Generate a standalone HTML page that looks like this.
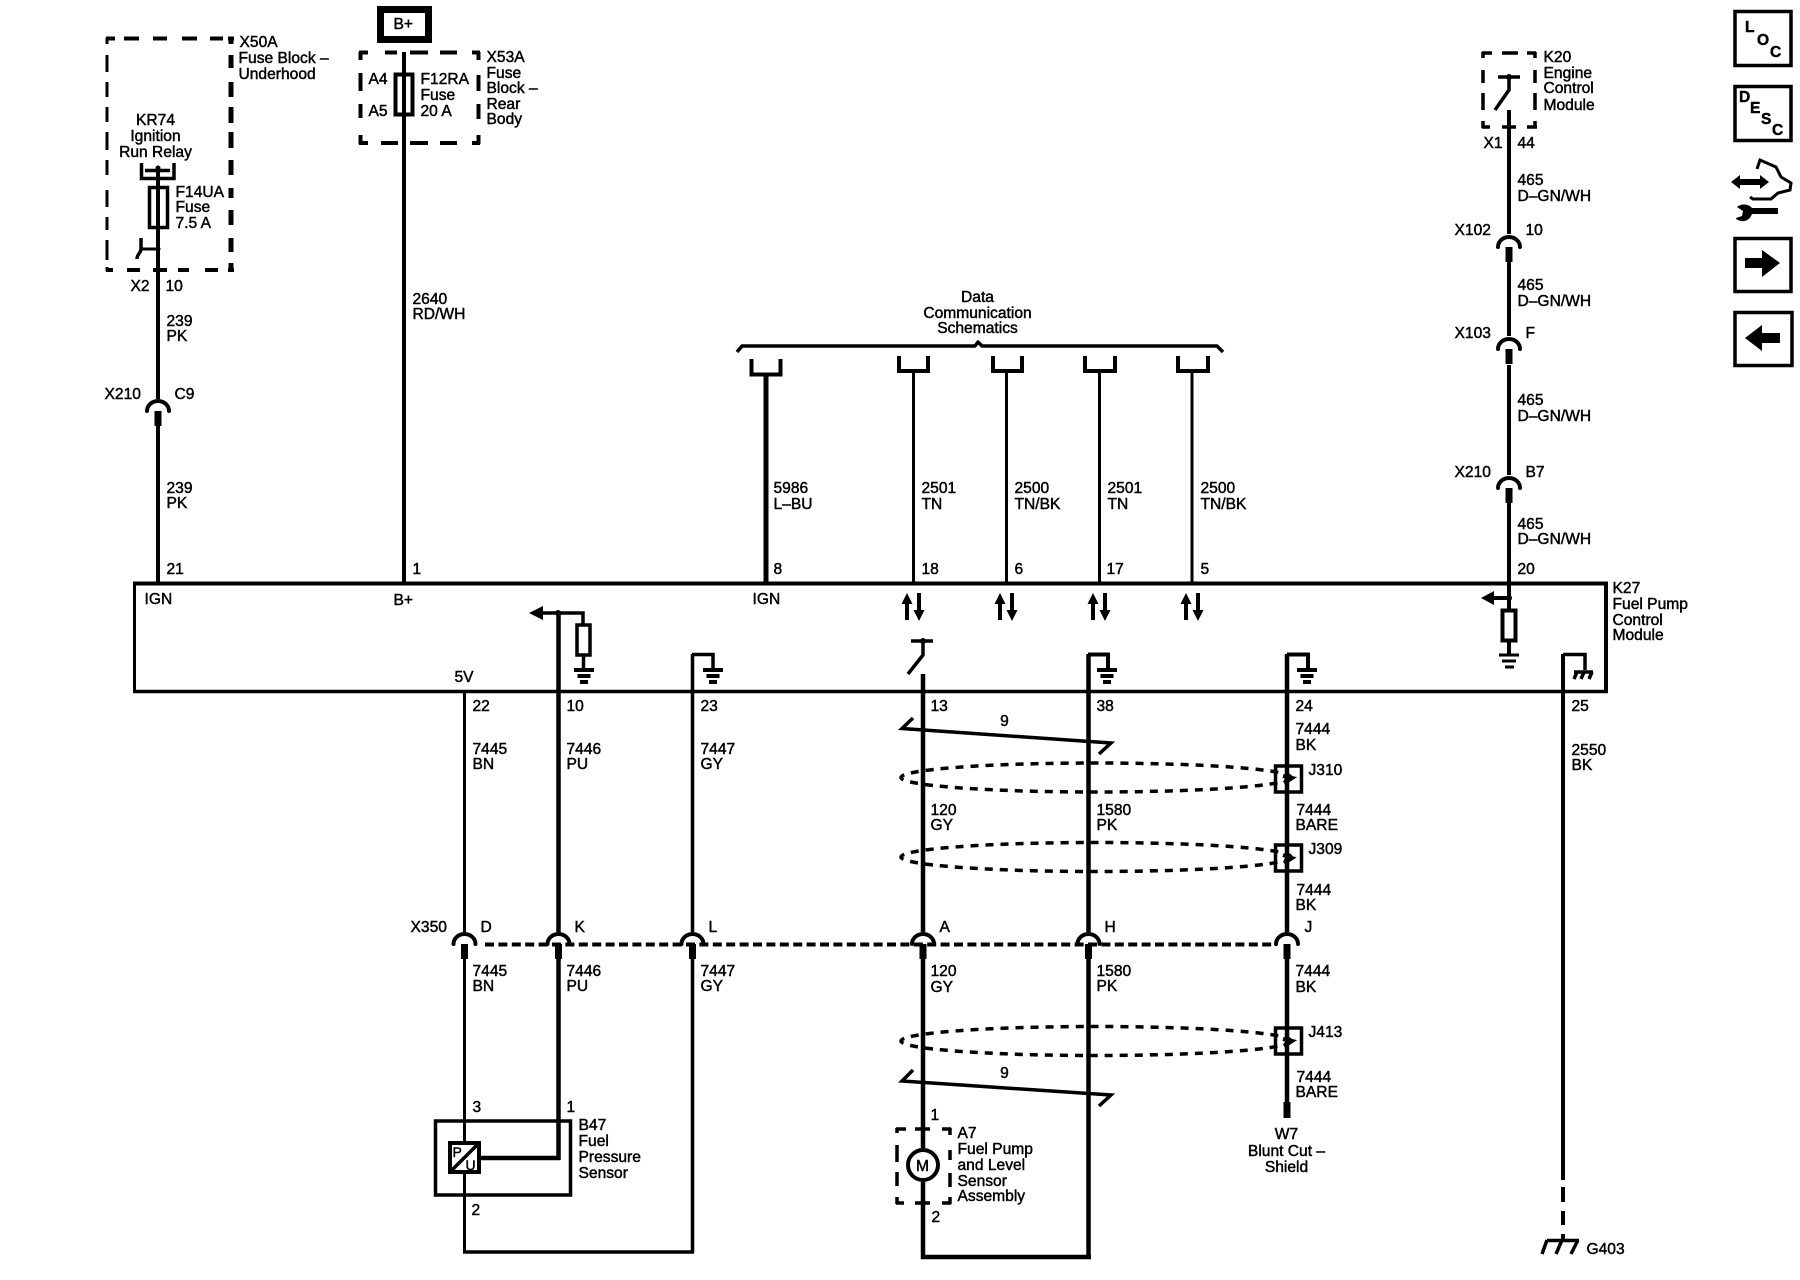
<!DOCTYPE html>
<html><head><meta charset="utf-8"><style>
html,body{margin:0;padding:0;background:#fff}
svg{display:block}
text{font-family:"Liberation Sans",Arial,sans-serif;font-size:15.6px;fill:#000;stroke:#000;stroke-width:.45px}
.m{text-anchor:middle}
.w{fill:none;stroke:#000;stroke-linecap:butt}
</style></head><body>
<svg width="1800" height="1280" viewBox="0 0 1800 1280" xmlns="http://www.w3.org/2000/svg">
<defs>
<g id="c"><path d="M-11 0A11 10 0 0 1 11 0" fill="none" stroke="#000" stroke-width="4" stroke-linecap="round"/><rect x="-3.5" y="0" width="7" height="15"/></g>
<g id="g"><rect x="-10" y="0" width="20" height="4"/><rect x="-6.5" y="6" width="13" height="4"/><rect x="-4" y="12" width="8" height="4"/></g>
<g id="b"><path d="M-7 27V10" stroke="#000" stroke-width="4"/><path d="M-7 0L-12.5 11H-1.5Z"/><path d="M5 0V18" stroke="#000" stroke-width="4"/><path d="M5 28L-.5 17H10.5Z"/></g>
</defs>
<rect width="1800" height="1280" fill="#fff"/>

<!-- dashed boxes -->
<path class="w" stroke-width="4" d="M106 38.5H115M124 38.5H139M153 38.5H167M182 38.5H197M210 38.5H223M228 38.5H234M106 270H113M127 270H140M153 270H167M178 270H189M205 270H218M228 270H234"/>
<path class="w" stroke-width="3" d="M107 38V44M107 55V72M107 82V97M107 107V122M107 132V150M107 160V175M107 190V207M107 217V230M107 240V260M107 267V271"/>
<path class="w" stroke-width="5" d="M231 38V44M231 55V68M231 82V97M231 107V123M231 132V148M231 160V175M231 188V198M231 210V225M231 238V252M231 263V272"/>
<path class="w" stroke-width="4" d="M359 52.5H368M385 52.5H397M410 52.5H428M440 52.5H457M472 52.5H480M359 143H368M381 143H398M410 143H428M440 143H457M472 143H480M360.5 52V60M360.5 73V91M360.5 104V118M360.5 135V144M478.5 52V60M478.5 75V91M478.5 104V119M478.5 135V144"/>
<path class="w" stroke-width="3.5" d="M1482 53H1492M1502 53H1518M1527 53H1536M1482 127H1490M1502 127H1516M1527 127H1537M1483 52V58M1483 70V83M1483 93V110M1483 121V128M1535 52V58M1535 70V83M1535 93V110M1535 121V128"/>
<path class="w" stroke-width="3.5" d="M896 1129H906M915 1129H930M942 1129H951M896 1203H904M915 1203H930M942 1203H951M897 1128V1133M897 1145V1162M897 1172V1186M897 1197V1204M950 1128V1135M950 1150V1160M950 1173V1187M950 1197V1204"/>

<!-- B+ box -->
<rect x="380.5" y="9.5" width="48" height="30" fill="none" stroke="#000" stroke-width="7"/>

<!-- top wires -->
<path class="w" stroke-width="4" d="M158 168V399M158 426V584M404 52V584"/>
<path class="w" stroke-width="5" d="M766 376V584"/>
<path class="w" stroke-width="3" d="M913.5 372V584M1006.5 372V584M1099.5 372V584M1192 372V584"/>
<path class="w" stroke-width="4" d="M1509 110V234M1509 262V336M1509 365V475M1509 503V610M1509 641V654"/>

<!-- data cups + brace -->
<path class="w" stroke-width="4" d="M751.5 359V374.5H780.5V359"/>
<path class="w" stroke-width="4" d="M899 356V371H928V356M993 356V371H1022V356M1085 356V371H1115V356M1178 356V371H1208V356"/>
<path class="w" stroke-width="3.5" stroke-linejoin="round" d="M737 352L742 346H975L978 342L982 346H1217L1223 352"/>

<!-- relay + fuses -->
<path class="w" stroke-width="3.5" d="M141.5 163V178.5H174V163M145 170.5H170"/>
<circle cx="158" cy="168" r="2.5"/>
<rect x="149.5" y="187.5" width="18" height="40" fill="none" stroke="#000" stroke-width="3.5"/>
<path class="w" stroke-width="3" d="M158 249H141"/>
<path class="w" stroke-width="3.5" d="M141 238V249C141 253 137 254 137 259"/>
<circle cx="158" cy="249" r="2.5"/>
<rect x="395.5" y="74.5" width="17" height="40" fill="none" stroke="#000" stroke-width="4"/>

<!-- module box -->
<path class="w" stroke-width="3" d="M134.5 584V692"/>
<path class="w" stroke-width="4" d="M133 583.5H1608M1606 582V693"/>
<path class="w" stroke-width="3.5" d="M133 691.5H1608"/>

<!-- bidir arrows -->
<use href="#b" x="914" y="593"/><use href="#b" x="1007" y="593"/><use href="#b" x="1100" y="593"/><use href="#b" x="1193" y="593"/>

<!-- internal: pin 10 -->
<path class="w" stroke-width="3.5" d="M543 613H583V625"/>
<path d="M529 613L543 606V620Z"/>
<circle cx="558" cy="613" r="3"/>
<rect x="577" y="625" width="13" height="30" fill="none" stroke="#000" stroke-width="3.5"/>
<path class="w" stroke-width="3.5" d="M583.5 655V668"/>
<use href="#g" x="584" y="668"/>
<!-- pin 23 -->
<path class="w" stroke-width="3.5" d="M692 654.5H713V668"/>
<use href="#g" x="713" y="668"/>
<!-- pin 13 switch -->
<path class="w" stroke-width="3.5" d="M911 641H933M923 641V655L908 674"/>
<circle cx="923" cy="641" r="3"/>
<!-- pin 38 / 24 -->
<path class="w" stroke-width="4" d="M1088 654.5H1108V668M1287 654.5H1308V668"/>
<use href="#g" x="1107" y="668"/><use href="#g" x="1307" y="668"/>
<!-- pin 20 -->
<path class="w" stroke-width="4" d="M1494 598H1510"/>
<path d="M1481 598L1494 591V605Z"/>
<circle cx="1509" cy="598" r="3"/>
<rect x="1502.5" y="610.5" width="13" height="30" fill="none" stroke="#000" stroke-width="4"/>
<path class="w" stroke-width="3" d="M1499 655H1519M1502 661H1516M1505 667H1514"/>
<!-- pin 25 -->
<path class="w" stroke-width="3.5" d="M1563 654.5H1585V670"/>
<path class="w" stroke-width="3.5" d="M1574 672H1593M1577 672L1574 679M1584 672L1581 679M1592 672L1589 679"/>

<!-- K20 switch -->
<path class="w" stroke-width="3.5" d="M1498 77H1520M1509 77V90L1495 110"/>
<circle cx="1509" cy="77" r="3"/>

<!-- lower wires -->
<path class="w" stroke-width="3" d="M464.5 691V932M464.5 958V1252"/>
<path class="w" stroke-width="4.5" d="M558.5 613V932M558.5 958V1160M481 1158H560"/>
<path class="w" stroke-width="3.5" d="M692.5 654V932M692.5 958V1253M463 1252H694"/>
<path class="w" stroke-width="4.5" d="M923 674V932M923 958V1148M923 1182V1259M1088.5 654V932M1088.5 958V1259M921 1257H1091M1287 654V932M1287 958V1102"/>
<rect x="1283.5" y="1102" width="7" height="16"/>
<path class="w" stroke-width="4" d="M1563 654V1180M1563 1187V1202M1563 1211V1225M1563 1234V1242"/>
<path class="w" stroke-width="3.5" stroke-linecap="round" d="M1547 1240.5H1579M1547 1240L1542 1254M1562 1240L1556 1254M1578 1240L1571 1254"/>

<!-- X350 dashes -->
<path class="w" stroke-width="4" stroke-dasharray="9 4.4" d="M485 944.5H1276"/>

<!-- connectors -->
<use href="#c" x="158" y="411"/>
<use href="#c" x="1509" y="247"/><use href="#c" x="1509" y="349"/><use href="#c" x="1509" y="488"/>
<use href="#c" x="464.5" y="944"/><use href="#c" x="558.5" y="944"/><use href="#c" x="692.5" y="944"/><use href="#c" x="923" y="944"/><use href="#c" x="1088.5" y="944"/><use href="#c" x="1287" y="944"/>

<!-- twists -->
<path class="w" stroke-width="3.5" stroke-linejoin="miter" d="M913 718L902 728.5L1111 743L1099 754"/>
<path class="w" stroke-width="3.5" stroke-linejoin="miter" d="M913 1070L902 1081L1111 1095L1099 1106"/>

<!-- shields -->
<g fill="none" stroke="#000" stroke-width="3.5" stroke-dasharray="8 7">
<ellipse cx="1096" cy="777.5" rx="195" ry="14.5"/>
<ellipse cx="1096" cy="857" rx="195" ry="14.5"/>
<ellipse cx="1096" cy="1041" rx="195" ry="14.5"/>
</g>
<g fill="none" stroke="#000" stroke-width="3.5">
<rect x="1275.5" y="766" width="26" height="26"/>
<rect x="1275.5" y="845" width="26" height="26"/>
<rect x="1275.5" y="1028" width="26" height="26"/>
</g>
<path class="w" stroke-width="4" d="M1283 776L1292 778L1284 783M1283 855L1292 858L1284 863M1283 1039L1292 1041L1284 1046"/>

<!-- B47 -->
<rect x="435.5" y="1121" width="135" height="74" fill="none" stroke="#000" stroke-width="3.5"/>
<rect x="450" y="1143" width="29" height="29" fill="#fff" stroke="#000" stroke-width="4"/>
<path class="w" stroke-width="3.5" d="M450 1172L479 1143"/>

<!-- motor -->
<circle cx="923" cy="1165" r="15" fill="#fff" stroke="#000" stroke-width="4"/>

<!-- right icons -->
<g fill="none" stroke="#000" stroke-width="3.5">
<rect x="1735" y="11.5" width="56" height="54"/>
<rect x="1735" y="86.5" width="56" height="54"/>
<rect x="1735" y="238.5" width="56" height="53"/>
<rect x="1735" y="312.5" width="57" height="53"/>
</g>
<path d="M1745 258H1762V250L1780 263L1762 277V268H1745Z"/>
<path d="M1780 333H1762V325L1745 338L1762 351V343H1780Z"/>
<path d="M1731 182L1740 175V179H1760V175L1769 182L1760 189V185H1740V189Z"/>
<path class="w" stroke-width="3" d="M1757 169L1760 160L1776 167L1781 177L1791 183L1790 190L1778 193L1771 199H1753L1750 197"/>
<path d="M1752 208H1778V214H1752C1750 219 1746 222 1741 221C1737 220 1736 219 1736 218L1742 216L1743 211L1737 207C1740 204 1748 203 1752 208Z"/>

<!-- labels -->
<g transform="translate(-.5 0)">
<text x="240" y="47">X50A</text><text x="239" y="63">Fuse Block –</text><text x="239" y="79">Underhood</text>
<text class="m" x="156" y="125">KR74</text><text class="m" x="156" y="141">Ignition</text><text class="m" x="156" y="157">Run Relay</text>
<text x="176" y="197">F14UA</text><text x="176" y="212">Fuse</text><text x="176" y="228">7.5 A</text>
<text x="131" y="291">X2</text><text x="166" y="291">10</text>
<text x="167" y="326">239</text><text x="167" y="341">PK</text>
<text x="105" y="399">X210</text><text x="175" y="399">C9</text>
<text x="167" y="493">239</text><text x="167" y="508">PK</text>
<text x="394" y="29">B+</text>
<text x="369" y="84">A4</text><text x="369" y="116">A5</text>
<text x="421" y="84">F12RA</text><text x="421" y="100">Fuse</text><text x="421" y="116">20 A</text>
<text x="487" y="62">X53A</text><text x="487" y="78">Fuse</text><text x="487" y="93">Block –</text><text x="487" y="109">Rear</text><text x="487" y="124">Body</text>
<text x="413" y="304">2640</text><text x="413" y="319">RD/WH</text>

<text class="m" x="978" y="302">Data</text><text class="m" x="978" y="318">Communication</text><text class="m" x="978" y="333">Schematics</text>
<text x="774" y="493">5986</text><text x="774" y="509">L–BU</text>
<text x="922" y="493">2501</text><text x="922" y="509">TN</text>
<text x="1015" y="493">2500</text><text x="1015" y="509">TN/BK</text>
<text x="1108" y="493">2501</text><text x="1108" y="509">TN</text>
<text x="1201" y="493">2500</text><text x="1201" y="509">TN/BK</text>

<text x="167" y="574">21</text><text x="413" y="574">1</text><text x="774" y="574">8</text><text x="922" y="574">18</text><text x="1015" y="574">6</text><text x="1107" y="574">17</text><text x="1201" y="574">5</text><text x="1518" y="574">20</text>
<text x="145" y="604">IGN</text><text x="394" y="605">B+</text><text x="753" y="604">IGN</text><text x="455" y="682">5V</text>
<text x="1613" y="593">K27</text><text x="1613" y="609">Fuel Pump</text><text x="1613" y="625">Control</text><text x="1613" y="640">Module</text>

<text x="473" y="711">22</text><text x="567" y="711">10</text><text x="701" y="711">23</text><text x="931" y="711">13</text><text x="1097" y="711">38</text><text x="1296" y="711">24</text><text x="1572" y="711">25</text>
<text x="473" y="754">7445</text><text x="473" y="769">BN</text>
<text x="567" y="754">7446</text><text x="567" y="769">PU</text>
<text x="701" y="754">7447</text><text x="701" y="769">GY</text>
<text x="1572" y="755">2550</text><text x="1572" y="770">BK</text>
<text class="m" x="1005" y="726">9</text>
<text x="1296" y="734">7444</text><text x="1296" y="750">BK</text>
<text x="1309" y="775">J310</text><text x="1309" y="854">J309</text>
<text x="931" y="815">120</text><text x="931" y="830">GY</text>
<text x="1097" y="815">1580</text><text x="1097" y="830">PK</text>
<text x="1297" y="815">7444</text><text x="1296" y="830">BARE</text>
<text x="1297" y="895">7444</text><text x="1296" y="910">BK</text>
<text x="411" y="932">X350</text><text x="481" y="932">D</text><text x="575" y="932">K</text><text x="709" y="932">L</text><text x="940" y="932">A</text><text x="1105" y="932">H</text><text x="1305" y="932">J</text>
<text x="473" y="976">7445</text><text x="473" y="991">BN</text>
<text x="567" y="976">7446</text><text x="567" y="991">PU</text>
<text x="701" y="976">7447</text><text x="701" y="991">GY</text>
<text x="931" y="976">120</text><text x="931" y="992">GY</text>
<text x="1097" y="976">1580</text><text x="1097" y="991">PK</text>
<text x="1296" y="976">7444</text><text x="1296" y="992">BK</text>
<text x="1309" y="1037">J413</text>
<text class="m" x="1005" y="1078">9</text>
<text x="1297" y="1082">7444</text><text x="1296" y="1097">BARE</text>
<text class="m" x="1287" y="1139">W7</text><text class="m" x="1287" y="1156">Blunt Cut –</text><text class="m" x="1287" y="1172">Shield</text>
<text x="473" y="1112">3</text><text x="567" y="1112">1</text><text x="472" y="1215">2</text>
<text x="579" y="1130">B47</text><text x="579" y="1146">Fuel</text><text x="579" y="1162">Pressure</text><text x="579" y="1178">Sensor</text>
<text x="453" y="1157" style="font-size:14px">P</text><text x="466" y="1170" style="font-size:14px">U</text>
<text x="931" y="1120">1</text><text x="932" y="1222">2</text>
<text x="958" y="1138">A7</text><text x="958" y="1154">Fuel Pump</text><text x="958" y="1170">and Level</text><text x="958" y="1186">Sensor</text><text x="958" y="1201">Assembly</text>
<text class="m" x="923" y="1171">M</text>
<text x="1587" y="1254">G403</text>

<text x="1544" y="62">K20</text><text x="1544" y="78">Engine</text><text x="1544" y="93">Control</text><text x="1544" y="110">Module</text>
<text x="1484" y="148">X1</text><text x="1518" y="148">44</text>
<text x="1518" y="185">465</text><text x="1518" y="201">D–GN/WH</text>
<text x="1455" y="235">X102</text><text x="1526" y="235">10</text>
<text x="1518" y="290">465</text><text x="1518" y="306">D–GN/WH</text>
<text x="1455" y="338">X103</text><text x="1526" y="338">F</text>
<text x="1518" y="405">465</text><text x="1518" y="421">D–GN/WH</text>
<text x="1455" y="477">X210</text><text x="1526" y="477">B7</text>
<text x="1518" y="529">465</text><text x="1518" y="544">D–GN/WH</text>
</g>

<g style="font-weight:bold">
<text x="1745" y="32">L</text><text x="1757" y="45">O</text><text x="1770" y="57">C</text>
<text x="1739" y="102">D</text><text x="1750" y="113">E</text><text x="1761" y="124">S</text><text x="1772" y="135">C</text>
</g>
</svg>
</body></html>
